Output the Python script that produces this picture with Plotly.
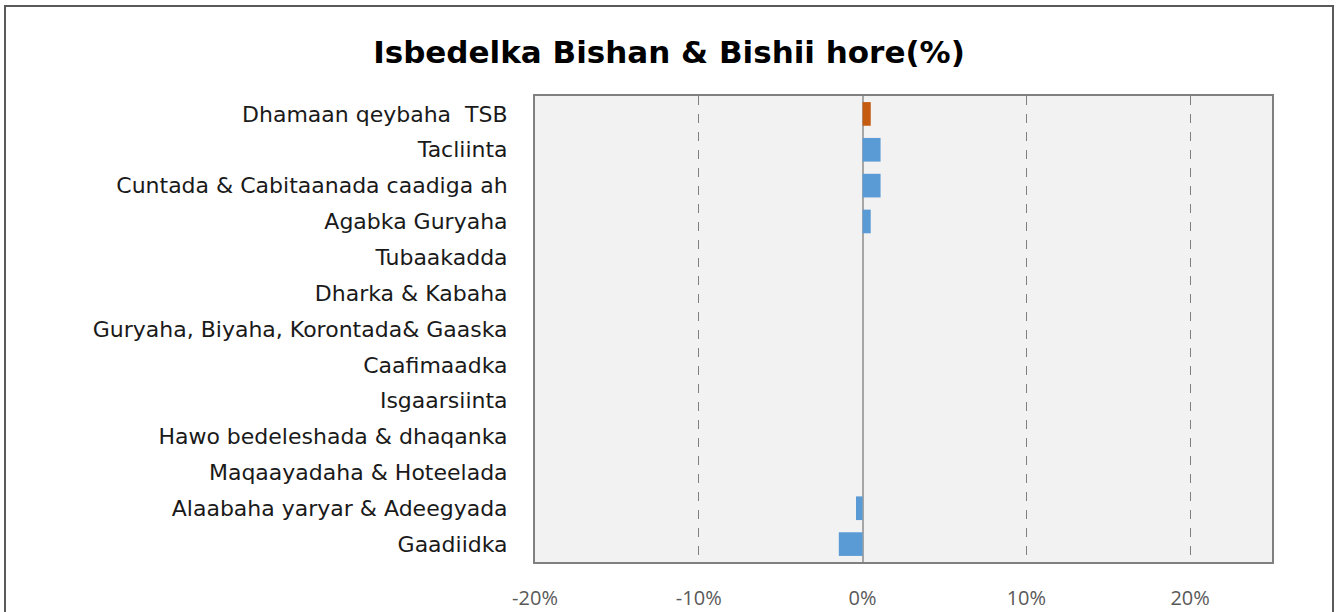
import plotly.graph_objects as go

categories = [
    "Dhamaan qeybaha  TSB",
    "Tacliinta",
    "Cuntada & Cabitaanada caadiga ah",
    "Agabka Guryaha",
    "Tubaakadda",
    "Dharka & Kabaha",
    "Guryaha, Biyaha, Korontada& Gaaska",
    "Caafimaadka",
    "Isgaarsiinta",
    "Hawo bedeleshada & dhaqanka",
    "Maqaayadaha & Hoteelada",
    "Alaabaha yaryar & Adeegyada",
    "Gaadiidka",
]
values = [0.005, 0.011, 0.011, 0.005, 0.0, 0.0, 0.0, 0.0, 0.0, 0.0, 0.0, -0.004, -0.0145]
bar_colors = ["#C55A11"] + ["#5B9BD5"] * 12
tick_vals = [-0.2, -0.1, 0.0, 0.1, 0.2]
tick_text = ["-20%", "-10%", "0%", "10%", "20%"]

W, H = 1338, 612
L, R, T, B = 535, 1272, 96, 562

fig = go.Figure(
    go.Bar(
        y=categories,
        x=values,
        orientation="h",
        marker=dict(color=bar_colors, line=dict(width=0)),
        width=0.66,
        hoverinfo="x+y",
    )
)

def px_x(p):
    return (p - L) / (R - L)

def px_y(p):
    return (B - p) / (B - T)

fig.update_layout(
    width=W,
    height=H,
    margin=dict(l=L, r=W - R, t=T, b=H - B, autoexpand=False),
    paper_bgcolor="white",
    plot_bgcolor="#F2F2F2",
    showlegend=False,
    font=dict(family="DejaVu Sans", color="#262626"),
    title=dict(
        text="<b>Isbedelka Bishan & Bishii hore(%)</b>",
        x=0.5,
        xref="container",
        xanchor="center",
        y=1 - 52 / H,
        yref="container",
        yanchor="middle",
        font=dict(family="DejaVu Sans", size=31, color="#000000"),
    ),
    xaxis=dict(
        range=[-0.2, 0.25],
        tickvals=tick_vals,
        ticktext=tick_text,
        showgrid=True,
        gridcolor="#808080",
        griddash="dash",
        gridwidth=1,
        zeroline=True,
        zerolinecolor="#A6A6A6",
        zerolinewidth=2,
        showline=True,
        linecolor="#808080",
        linewidth=2,
        mirror=True,
        ticks="",
        automargin=False,
        ticklabelstandoff=17,
        tickfont=dict(family="Liberation Sans Narrow, Open Sans", size=20, color="#595959"),
        fixedrange=True,
    ),
    yaxis=dict(
        autorange="reversed",
        showgrid=False,
        showline=True,
        linecolor="#808080",
        linewidth=2,
        mirror=True,
        ticks="",
        automargin=False,
        ticklabelstandoff=21,
        tickfont=dict(family="DejaVu Sans", size=22, color="#1a1a1a"),
        fixedrange=True,
    ),
    shapes=[
        dict(
            type="rect",
            xref="paper",
            yref="paper",
            x0=px_x(5),
            x1=px_x(1333),
            y0=px_y(640),
            y1=px_y(6),
            line=dict(color="#595959", width=2),
            fillcolor="rgba(0,0,0,0)",
            layer="below",
        )
    ],
)

fig.write_html(
    "out.html",
    config={"displayModeBar": False},
    post_script="document.body.style.margin='0';document.body.style.overflow='hidden';",
)
